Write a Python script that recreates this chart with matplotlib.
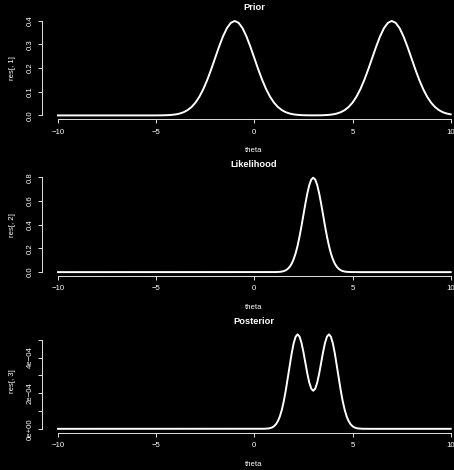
import matplotlib
matplotlib.use("Agg")
import matplotlib.pyplot as plt
import numpy as np

plt.rcParams['font.family'] = ['Liberation Sans', 'DejaVu Sans']

# theta grids (coarse for the prior, fine for the narrow curves)
theta_prior = np.linspace(-10, 10, 101)
theta_fine = np.linspace(-10, 10, 201)

# res[, 1]: prior, read every 0.2 from -10
prior = [0.0] * 25 + [
    0.0001, 0.0003, 0.0006, 0.0012, 0.0024, 0.0044, 0.0079, 0.0136, 0.0224,
    0.0355, 0.0540, 0.0790, 0.1109, 0.1497, 0.1942, 0.2420, 0.2897, 0.3332,
    0.3683, 0.3910, 0.3989, 0.3910, 0.3683, 0.3332, 0.2897, 0.2420, 0.1942,
    0.1497, 0.1109, 0.0790, 0.0540, 0.0355, 0.0224, 0.0136, 0.0079, 0.0044,
    0.0024, 0.0012, 0.0006, 0.0004, 0.0003, 0.0004, 0.0006, 0.0012, 0.0024,
    0.0044, 0.0079, 0.0136, 0.0224, 0.0355, 0.0540, 0.0790, 0.1109, 0.1497,
    0.1942, 0.2420, 0.2897, 0.3332, 0.3683, 0.3910, 0.3989, 0.3910, 0.3683,
    0.3332, 0.2897, 0.2420, 0.1942, 0.1497, 0.1109, 0.0790, 0.0540, 0.0355,
    0.0224, 0.0136, 0.0079, 0.0044]

# res[, 2]: likelihood, read every 0.1 from -10
likelihood = [0.0] * 110 + [
    0.0003, 0.0006, 0.0012, 0.0025, 0.0048, 0.0089, 0.0158, 0.0272, 0.0448,
    0.0710, 0.1080, 0.1579, 0.2218, 0.2995, 0.3884, 0.4839, 0.5794, 0.6664,
    0.7366, 0.7820, 0.7979, 0.7820, 0.7366, 0.6664, 0.5794, 0.4839, 0.3884,
    0.2995, 0.2218, 0.1579, 0.1080, 0.0710, 0.0448, 0.0272, 0.0158, 0.0089,
    0.0048, 0.0025, 0.0012, 0.0006, 0.0003] + [0.0] * 50

# res[, 3]: posterior in units of 1e-4, read every 0.1 from -10
posterior_e4 = [0.0] * 103 + [
    0.001, 0.002, 0.004, 0.009, 0.019, 0.039, 0.077, 0.144, 0.257, 0.434,
    0.698, 1.068, 1.554, 2.151, 2.831, 3.545, 4.224, 4.787, 5.162, 5.298,
    5.178, 4.825, 4.301, 3.690, 3.088, 2.585, 2.252, 2.136, 2.252, 2.585,
    3.088, 3.690, 4.301, 4.825, 5.178, 5.298, 5.162, 4.787, 4.224, 3.545,
    2.831, 2.151, 1.554, 1.068, 0.698, 0.434, 0.257, 0.144, 0.077, 0.039,
    0.019, 0.009, 0.004, 0.002, 0.001] + [0.0] * 43
posterior = [v * 1e-4 for v in posterior_e4]

x_ticks = [-10, -5, 0, 5, 10]
x_labels = ["\u221210", "\u22125", "0", "5", "10"]

titles = ["Prior", "Likelihood", "Posterior"]
ylabels = ["res[, 1]", "res[, 2]", "res[, 3]"]
y_ticks = [[0.0, 0.1, 0.2, 0.3, 0.4],
           [0.0, 0.2, 0.4, 0.6, 0.8],
           [0.0, 1e-4, 2e-4, 3e-4, 4e-4, 5e-4]]
y_labels = [["0.0", "0.1", "0.2", "0.3", "0.4"],
            ["0.0", "0.2", "0.4", "0.6", "0.8"],
            ["0e+00", "", "2e\u221204", "", "4e\u221204", ""]]

W, H = 454.0, 470.0
LEFT, AW, AH = 42.3, 424.1, 102.0

fig = plt.figure(figsize=(W / 100, H / 100), dpi=100, facecolor="black")


def panel(k, x, y):
    top = 17.2 + k * 156.7
    bot = top + AH
    ax = fig.add_axes([LEFT / W, 1 - bot / H, AW / W, AH / H])
    ax.set_facecolor("black")
    ax.plot(x, y, color="white", lw=1.4)

    # R style: data range padded by 4%
    lo, hi = min(y), max(y)
    pad = 0.04 * (hi - lo)
    ax.set_xlim(-10.8, 10.8)
    ax.set_ylim(lo - pad, hi + pad)

    ax.spines["top"].set_visible(False)
    ax.spines["right"].set_visible(False)
    ax.spines["bottom"].set_bounds(x_ticks[0], x_ticks[-1])
    ax.spines["left"].set_bounds(y_ticks[k][0], y_ticks[k][-1])
    for s in ["bottom", "left"]:
        ax.spines[s].set_color("#e0e0e0")
        ax.spines[s].set_linewidth(0.7)

    ax.set_xticks(x_ticks)
    ax.set_xticklabels(x_labels)
    ax.set_yticks(y_ticks[k])
    ax.set_yticklabels(y_labels[k], rotation=90, va="center")
    ax.tick_params(colors="#e0e0e0", labelcolor="white", direction="out",
                   length=2.6, width=0.7, labelsize=5.6)
    ax.tick_params(axis="x", pad=4.3)
    ax.tick_params(axis="y", pad=3.6)

    fig.text(254 / W, 1 - (top - 9.4) / H, titles[k], ha="center",
             va="center", fontsize=6.7, fontweight="bold", color="white")
    fig.text(254 / W, 1 - (bot + 31.6) / H, "theta", ha="center",
             va="center", fontsize=5.6, color="white")
    fig.text(12 / W, 1 - (top + AH / 2) / H, ylabels[k], ha="center",
             va="center", rotation=90, fontsize=5.6, color="white")
    return ax


panel(0, theta_prior, prior)
panel(1, theta_fine, likelihood)
panel(2, theta_fine, posterior)

fig.savefig("out.png", dpi=100, facecolor="black")
